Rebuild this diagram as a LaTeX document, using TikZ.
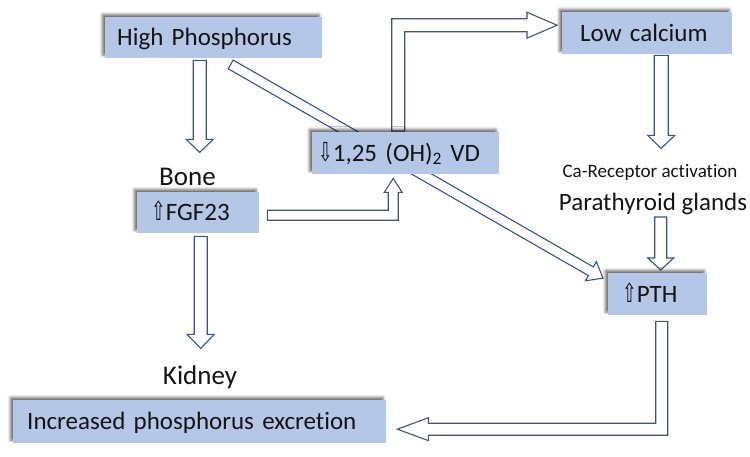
\documentclass[tikz,border=0pt]{standalone}
\usepackage{fontspec}
\setmainfont{Carlito}[Ligatures=NoCommon]
\newfontfamily\symfont{DejaVu Sans}
\usetikzlibrary{calc,shadows.blur}
\definecolor{boxblue}{HTML}{B4C7E7}
\definecolor{arrowblue}{HTML}{2F5597}
\definecolor{arrowgray}{HTML}{44546A}
\definecolor{txt}{HTML}{141414}
\newcommand\upa{\scalebox{0.7}[1.05]{\symfont ⇧}}
\newcommand\downa{\scalebox{0.7}[1.05]{\symfont ⇩}}
\pgfdeclarelayer{bg}
\pgfsetlayers{bg,main}
% straight block arrow: style, start, tip, shaft half width, head half width, head length
\newcommand\blockarrow[6]{%
  \draw[#1] let \p1=(#2), \p2=(#3), \n1={atan2(\y2-\y1,\x2-\x1)} in
    ($(\p1)+(\n1+90:#4)$) -- ($(\p2)+(\n1+180:#6)+(\n1+90:#4)$)
    -- ($(\p2)+(\n1+180:#6)+(\n1+90:#5)$) -- (\p2)
    -- ($(\p2)+(\n1+180:#6)+(\n1-90:#5)$) -- ($(\p2)+(\n1+180:#6)+(\n1-90:#4)$)
    -- ($(\p1)+(\n1-90:#4)$) -- cycle;}
% elbow block arrow: style, start, corner, tip, shaft half width, head half width, head length
\newcommand\elbowarrow[7]{%
  \draw[#1] let \p1=(#2), \p2=(#3), \p3=(#4),
      \n1={atan2(\y2-\y1,\x2-\x1)}, \n2={atan2(\y3-\y2,\x3-\x2)} in
    ($(\p1)+(\n1+90:#5)$) -- ($(\p2)+(\n1+90:#5)+(\n2+90:#5)$)
    -- ($(\p3)+(\n2+180:#7)+(\n2+90:#5)$) -- ($(\p3)+(\n2+180:#7)+(\n2+90:#6)$)
    -- (\p3)
    -- ($(\p3)+(\n2+180:#7)+(\n2-90:#6)$) -- ($(\p3)+(\n2+180:#7)+(\n2-90:#5)$)
    -- ($(\p2)+(\n1-90:#5)+(\n2-90:#5)$) -- ($(\p1)+(\n1-90:#5)$) -- cycle;}
\begin{document}
\begin{tikzpicture}[x=1pt,y=-1pt,
  lbl/.style={font=\fontsize{25}{30}\selectfont, text=txt, inner sep=0pt},
  big/.style={font=\fontsize{27}{32}\selectfont},
  box/.style={lbl, fill=boxblue, anchor=north west, align=left, inner ysep=0pt,
    text height=16pt, text depth=0pt,
    blur shadow={shadow xshift=-3pt, shadow yshift=3pt, shadow blur radius=2.5pt, shadow opacity=55}},
  barrow/.style={draw=arrowblue, fill=white, line width=1.1pt, line join=miter},
  garrow/.style={draw=arrowgray, fill=white, line width=1.1pt, line join=miter}]
\useasboundingbox (0,0) rectangle (750,456);

% boxes
\node[box, inner xsep=12pt, text width=193pt, minimum height=41pt] (hp) at (105,17) {High Phosphorus};
\node[box, inner xsep=18pt, text width=134pt, minimum height=42pt] (lc) at (562,12) {Low calcium};
\node[box, inner xsep=6pt, text width=175pt, minimum height=42pt] (vd) at (312,132) {\downa1,25 (OH)\textsubscript{2} VD};
\node[box, inner xsep=14pt, text width=94pt, minimum height=41pt] (fgf) at (137,192) {\upa FGF23};
\node[box, inner xsep=14pt, text width=71pt, minimum height=42pt] (pth) at (608,273) {\upa PTH};
\node[box, inner xsep=14pt, text width=345pt, minimum height=43pt] (inc) at (13,400) {Increased phosphorus excretion};

% labels
\node[lbl, big, anchor=base] (bone) at (187.5,185) {Bone};
\node[lbl, big, anchor=base] (kidney) at (200,384) {Kidney};
\node[lbl, anchor=base, font=\fontsize{19}{22}\selectfont] (carec) at (650,177) {Ca-Receptor activation};
\node[lbl, anchor=base] (para) at (653,210) {Parathyroid glands};

% connector end points
\coordinate (a1s) at ([xshift=-14pt,yshift=-2pt]hp.south);
\coordinate (a1t) at ([xshift=-14pt,yshift=-94pt]hp.south);
\coordinate (a2s) at ([xshift=2.5pt,yshift=-3pt]fgf.south);
\coordinate (a2t) at ([xshift=2.5pt,yshift=-115pt]fgf.south);
\coordinate (a3s) at ([xshift=17pt,yshift=-6pt]hp.south);
\coordinate (a3t) at ([xshift=-5pt,yshift=16pt]pth.west);
\coordinate (a4s) at ([xshift=14pt,yshift=-1pt]lc.south);
\coordinate (a4t) at ([xshift=14pt,yshift=-94pt]lc.south);
\coordinate (a5s) at ([xshift=3pt,yshift=56pt]pth.north);
\coordinate (a5t) at ([xshift=3pt,yshift=3pt]pth.north);
\coordinate (e1s) at ([xshift=8pt,yshift=-2.5pt]fgf.east);
\coordinate (e1t) at ([xshift=-12.5pt,yshift=-4pt]vd.south);
\coordinate (e2s) at ([xshift=-7.5pt,yshift=1pt]vd.north);
\coordinate (e2t) at ([xshift=-5pt,yshift=8pt]lc.west);
\coordinate (e3s) at ([xshift=4pt,yshift=-6pt]pth.south);
\coordinate (e3t) at ([xshift=11pt,yshift=-7.5pt]inc.east);

\begin{pgfonlayer}{bg}
\blockarrow{barrow}{a1s}{a1t}{6.5pt}{13.5pt}{13pt}
\blockarrow{barrow}{a2s}{a2t}{6.5pt}{13.5pt}{14pt}
\blockarrow{barrow}{a3s}{a3t}{5pt}{11pt}{14pt}
\blockarrow{barrow}{a4s}{a4t}{7pt}{13.5pt}{13pt}
\blockarrow{barrow}{a5s}{a5t}{6pt}{13pt}{12pt}
\elbowarrow{garrow}{e1s}{e1s -| e1t}{e1t}{5pt}{9pt}{14pt}
\elbowarrow{garrow}{e2s}{e2s |- e2t}{e2t}{6.5pt}{13pt}{30pt}
\elbowarrow{garrow}{e3s}{e3s |- e3t}{e3t}{6pt}{11.5pt}{31pt}
\end{pgfonlayer}
\end{tikzpicture}
\end{document}
